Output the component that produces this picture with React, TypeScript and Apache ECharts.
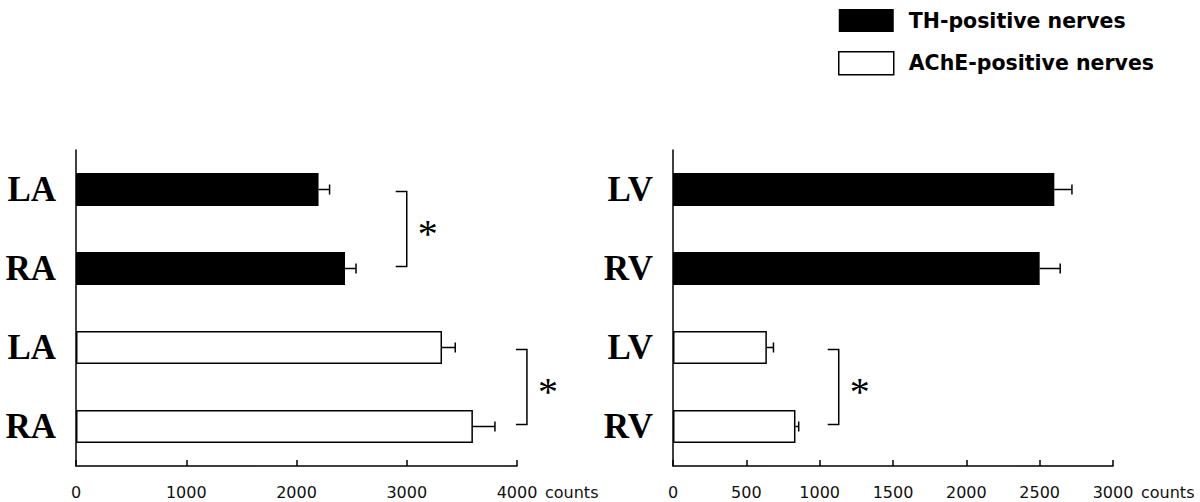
import React, { useEffect, useRef } from "react";
import * as echarts from "echarts";

// ---- data ----
const leftCategories = ["LA", "RA", "LA", "RA"];
const rightCategories = ["LV", "RV", "LV", "RV"];
const seriesNames = ["TH-positive nerves", "AChE-positive nerves"];

const leftTH: (number | string)[] = [2200, 2440, "-", "-"];
const leftAChE: (number | string)[] = ["-", "-", 3320, 3600];
const leftErr = [100, 100, 120, 200];

const rightTH: (number | string)[] = [2600, 2500, "-", "-"];
const rightAChE: (number | string)[] = ["-", "-", 640, 835];
const rightErr = [120, 140, 45, 22];

const leftAxisMax = 4000;
const leftAxisInterval = 1000;
const rightAxisMax = 3000;
const rightAxisInterval = 500;
const axisUnit = "counts";

// brackets: [xStart, xEnd, fromCategoryIndex, toCategoryIndex]
const leftBrackets = [
  [2900, 3000, 0, 1],
  [3990, 4090, 2, 3],
];
const rightBrackets = [[1055, 1130, 2, 3]];
const significanceMark = "*";

const tickFont = "'DejaVu Sans', sans-serif";
const catFont = "'Liberation Serif', 'Times New Roman', serif";

function errData(th: (number | string)[], ache: (number | string)[], err: number[]) {
  return err.map((e, i) => {
    const v = typeof th[i] === "number" ? (th[i] as number) : (ache[i] as number);
    return [i, v, e];
  });
}

function buildPanel(idx: number, cats: string[], th: any[], ache: any[], err: number[], max: number, interval: number, brackets: number[][]) {
  const xAxis = {
    gridIndex: idx,
    type: "value",
    min: 0,
    max,
    interval,
    axisLine: { show: true, lineStyle: { color: "#000", width: 1.5 } },
    axisTick: { show: true, inside: true, length: 6, lineStyle: { color: "#000", width: 1.5 } },
    splitLine: { show: false },
    axisLabel: {
      margin: 18,
      fontFamily: tickFont,
      fontSize: 16,
      color: "#111",
      formatter: (v: number) => String(v),
    },
    name: axisUnit,
    nameLocation: "end",
    nameGap: 28,
    nameTextStyle: {
      fontFamily: tickFont,
      fontSize: 16,
      color: "#111",
      verticalAlign: "top",
      align: "left",
      padding: [18, 0, 0, 0],
    },
  };
  const yAxis = {
    gridIndex: idx,
    type: "category",
    inverse: true,
    data: cats,
    axisLine: { show: true, lineStyle: { color: "#000", width: 1.5 } },
    axisTick: { show: false },
    axisLabel: { margin: 20, fontFamily: catFont, fontWeight: "bold", fontSize: 35, color: "#000" },
  };
  const series: any[] = [
    {
      name: seriesNames[0],
      type: "bar",
      xAxisIndex: idx,
      yAxisIndex: idx,
      data: th,
      barWidth: 33,
      barGap: "-100%",
      itemStyle: { color: "#000" },
    },
    {
      name: seriesNames[1],
      type: "bar",
      xAxisIndex: idx,
      yAxisIndex: idx,
      data: ache,
      barWidth: 33,
      barGap: "-100%",
      itemStyle: { color: "#fff", borderColor: "#000", borderWidth: 1.5 },
    },
    {
      type: "custom",
      xAxisIndex: idx,
      yAxisIndex: idx,
      z: 3,
      data: errData(th, ache, err),
      encode: { x: [1, 2], y: 0 },
      renderItem: (_p: any, api: any) => {
        const cat = api.value(0);
        const v = api.value(1);
        const e = api.value(2);
        const p0 = api.coord([v, cat]);
        const p1 = api.coord([v + e, cat]);
        const st = { stroke: "#000", lineWidth: 1.5 };
        return {
          type: "group",
          children: [
            { type: "line", shape: { x1: p0[0], y1: p0[1], x2: p1[0], y2: p1[1] }, style: st },
            { type: "line", shape: { x1: p1[0], y1: p1[1] - 5, x2: p1[0], y2: p1[1] + 5 }, style: st },
          ],
        };
      },
    },
    {
      type: "custom",
      xAxisIndex: idx,
      yAxisIndex: idx,
      z: 3,
      clip: false,
      data: brackets,
      encode: { x: [0, 1], y: [2, 3] },
      renderItem: (_p: any, api: any) => {
        const a = api.coord([api.value(0), api.value(2)]);
        const b = api.coord([api.value(1), api.value(3)]);
        const y0 = a[1] + 2;
        const y1 = b[1] - 2;
        const x0 = a[0];
        const x1 = b[0];
        return {
          type: "group",
          children: [
            {
              type: "polyline",
              shape: { points: [[x0, y0], [x1, y0], [x1, y1], [x0, y1]] },
              style: { stroke: "#000", lineWidth: 1.5, fill: null },
            },
            {
              type: "text",
              x: x1 + 21,
              y: (y0 + y1) / 2 + 4.5,
              style: {
                text: significanceMark,
                font: `40px ${catFont}`,
                fill: "#000",
                align: "center",
                verticalAlign: "middle",
              },
            },
          ],
        };
      },
    },
  ];
  return { xAxis, yAxis, series };
}

export default function App() {
  const ref = useRef<HTMLDivElement>(null);
  useEffect(() => {
    if (!ref.current) return;
    const chart = echarts.init(ref.current, undefined, { renderer: "svg" });
    const left = buildPanel(0, leftCategories, leftTH, leftAChE, leftErr, leftAxisMax, leftAxisInterval, leftBrackets);
    const right = buildPanel(1, rightCategories, rightTH, rightAChE, rightErr, rightAxisMax, rightAxisInterval, rightBrackets);
    chart.setOption({
      animation: false,
      backgroundColor: "#fff",
      legend: {
        orient: "vertical",
        left: 838,
        top: 9,
        padding: 0,
        itemWidth: 55,
        itemHeight: 23,
        itemGap: 19,
        selectedMode: false,
        textStyle: {
          fontFamily: "'DejaVu Sans', sans-serif",
          fontWeight: "bold",
          fontSize: 20.5,
          color: "#000",
          padding: [0, 0, 0, 10],
        },
        data: [
          { name: seriesNames[0], icon: "rect", itemStyle: { color: "#000" } },
          { name: seriesNames[1], icon: "rect", itemStyle: { color: "#fff", borderColor: "#000", borderWidth: 1.5 } },
        ],
      },
      grid: [
        { left: 76, top: 150, width: 441, height: 316 },
        { left: 673, top: 150, width: 440, height: 316 },
      ],
      xAxis: [left.xAxis, right.xAxis],
      yAxis: [left.yAxis, right.yAxis],
      series: [...left.series, ...right.series],
    });
    return () => chart.dispose();
  }, []);
  return (
    <div
      ref={ref}
      style={{ position: "fixed", left: 0, top: 0, width: 1200, height: 502, background: "#fff" }}
    />
  );
}
